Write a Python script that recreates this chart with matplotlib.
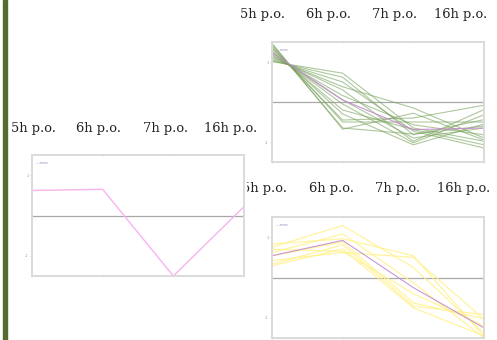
import numpy as np
import matplotlib.pyplot as plt
from matplotlib.patches import Rectangle

W, H = 497, 340

time_labels = ["5h p.o.", "6h p.o.", "7h p.o.", "16h p.o."]
t = np.arange(len(time_labels))

# cluster A (green profiles, top right)
green_profiles = [
    [1.01, 0.72, -0.65, -0.98],
    [1.03, 0.62, -0.82, -0.44],
    [1.06, 0.50, -0.73, -1.15],
    [1.10, 0.38, -0.15, -0.90],
    [1.13, 0.30, -0.98, -0.19],
    [1.17, 0.16, -0.57, -0.82],
    [1.20, 0.05, -0.90, -0.65],
    [1.24, -0.05, -1.02, -0.32],
    [1.28, -0.20, -0.69, -1.07],
    [1.33, -0.30, -1.07, -0.55],
    [1.36, -0.45, -0.40, -0.08],
    [1.40, -0.50, -0.50, -0.50],
    [1.44, -0.65, -0.80, -0.60],
    [1.47, -0.68, -0.28, -0.95],
]
green_mean = [1.24, 0.05, -0.69, -0.65]

# cluster B (single pink profile, left)
pink_profile = [0.62, 0.65, -1.50, 0.22]

# cluster C (yellow profiles, bottom right)
yellow_profiles = [
    [0.83, 0.96, 0.54, -1.46],
    [0.75, 1.29, 0.25, -1.38],
    [0.62, 1.08, -0.13, -1.50],
    [0.54, 0.88, -0.63, -1.02],
    [0.42, 0.62, 0.50, -1.04],
    [0.33, 0.81, -0.71, -0.92],
    [0.29, 0.71, -0.75, -1.45],
    [0.70, 0.65, -0.40, -1.20],
]
yellow_mean = [0.54, 0.92, -0.25, -1.25]

fig = plt.figure(figsize=(W / 100, H / 100), dpi=100)
fig.patch.set_facecolor("white")

# olive bar on the left of the slide
fig.add_artist(Rectangle((2.7 / W, 0), 4.6 / W, 1, transform=fig.transFigure,
                         color="#566b2e", zorder=0))


def panel(x0, x1, y0, y1):
    ax = fig.add_axes([x0 / W, 1 - y1 / H, (x1 - x0) / W, (y1 - y0) / H])
    ax.set_xlim(0, 3)
    ax.set_ylim(-1.5, 1.5)
    for s in ax.spines.values():
        s.set_color("#dadada")
        s.set_linewidth(1.4)
    ax.axhline(0, color="#a8a8a8", lw=0.9, zorder=1)
    ax.set_xticks(t)
    ax.set_xticklabels([])
    ax.tick_params(axis="x", top=True, direction="inout", length=2,
                   width=0.5, color="#d0d0d0")
    ax.set_yticks([-1, 1])
    ax.set_yticklabels(["-1", "1"])
    ax.tick_params(axis="y", direction="out", length=1.5, width=0.5,
                   color="#b8b8d8", labelsize=2.5, labelcolor="#8888bb", pad=1)
    ax.text(0.02, 0.95, "— mean", transform=ax.transAxes, fontsize=2,
            color="#8888bb", va="top")
    return ax


label_font = dict(family="DejaVu Serif", fontsize=9.4, color="#222222",
                  va="baseline", ha="left")

ax1 = panel(272, 484, 42, 162)
for p in green_profiles:
    ax1.plot(t, p, color="#78a25c", lw=0.8, alpha=0.6)
ax1.plot(t, green_mean, color="#c58ad0", lw=0.8, alpha=0.9)

ax2 = panel(32, 244, 155, 276)
ax2.plot(t, pink_profile, color="#f7b4ee", lw=1.0)

ax3 = panel(272, 484, 217, 338)
for p in yellow_profiles:
    ax3.plot(t, p, color="#fff28e", lw=0.9, alpha=0.85)
ax3.plot(t, yellow_mean, color="#c58ad0", lw=0.8, alpha=0.9)

for x, lab in zip([240, 306, 372, 434], time_labels):
    fig.text(x / W, 1 - 18 / H, lab, **label_font)
for x, lab in zip([11, 76, 143, 204], time_labels):
    fig.text(x / W, 1 - 132 / H, lab, **label_font)

# labels of bottom right panel sit behind the left panel image
for x, lab in zip([242, 309, 375, 437], time_labels):
    fig.text(x / W, 1 - 192 / H, lab, **label_font)
fig.add_artist(Rectangle((236 / W, 1 - 198 / H), 10 / W, 21 / H,
                         transform=fig.transFigure, color="white", zorder=5))
fig.add_artist(plt.Line2D([243.6 / W, 243.6 / W], [1 - 199 / H, 1 - 176 / H],
                          transform=fig.transFigure, color="#dadada", lw=1.4,
                          zorder=6))

fig.savefig("out.png", dpi=100)
